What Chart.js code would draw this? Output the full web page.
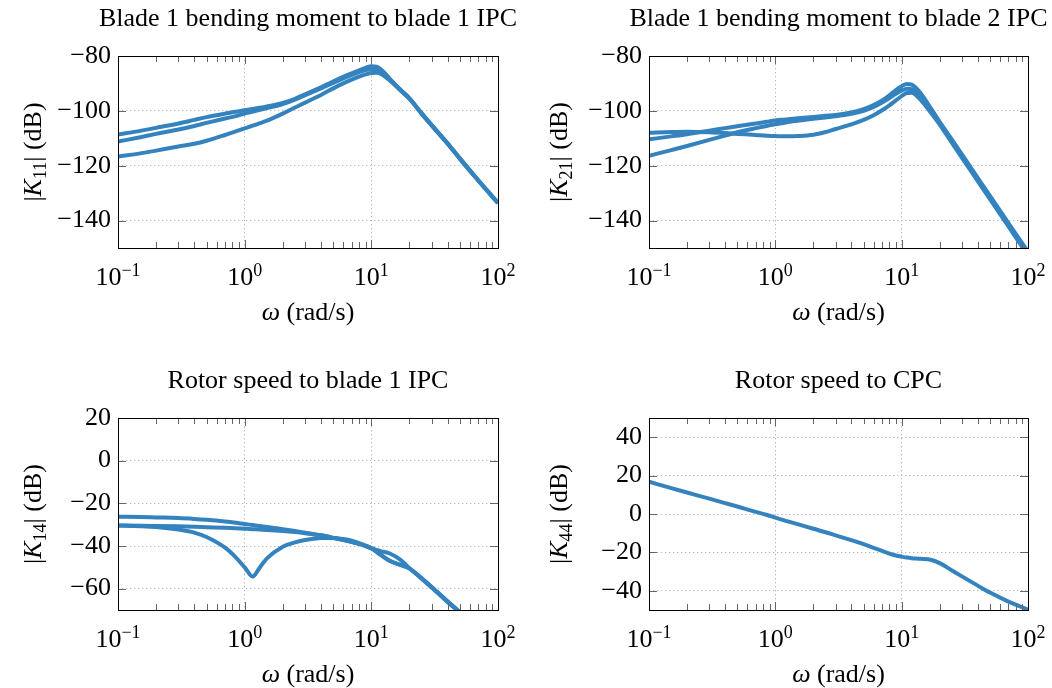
<!DOCTYPE html>
<html>
<head>
<meta charset="utf-8">
<title>Controller magnitude responses</title>
<script src="https://cdn.jsdelivr.net/npm/chart.js@4.4.1/dist/chart.umd.min.js"></script>
<style>
    html, body { margin: 0; padding: 0; background: #fff; overflow: hidden; }
    .panel { position: absolute; width: 526px; height: 330px; }
</style>
</head>
<body>
<div class="panel" style="left:0;top:0"><canvas id="k11"></canvas></div>
<div class="panel" style="left:526px;top:0"><canvas id="k21"></canvas></div>
<div class="panel" style="left:0;top:362px"><canvas id="k14"></canvas></div>
<div class="panel" style="left:526px;top:362px"><canvas id="k44"></canvas></div>
<script>
// Frequency samples (rad/s), shared by every series
const omega = [0.1, 0.15, 0.2, 0.3, 0.4, 0.5, 0.7, 0.85, 1, 1.16, 1.3, 1.5, 2, 2.5, 3, 4, 5,
    6, 7, 8, 9, 10, 11, 12, 14, 17, 20, 25, 30, 40, 50, 70, 100];

// |K11| (dB)
const k11A = [-108.6, -107.3, -106.2, -104.6, -103.3, -102.3, -101.0, -100.3, -99.8, -99.3, -98.9,
    -98.4, -97.1, -95.6, -94.0, -91.4, -89.3, -87.6, -86.3, -85.2, -84.3, -83.7, -83.9, -85.0,
    -88.3, -92.3, -95.4, -100.9, -105.2, -111.8, -117.3, -125.3, -133.5];
const k11B = [-111.2, -109.6, -108.4, -106.8, -105.5, -104.4, -102.8, -101.9, -101.0, -100.3, -99.7,
    -99.0, -97.5, -95.9, -94.3, -91.8, -89.8, -88.2, -86.9, -85.9, -85.1, -84.8, -85.0, -85.8,
    -88.6, -92.4, -95.5, -101.0, -105.3, -111.9, -117.4, -125.4, -133.6];
const k11C = [-116.7, -115.5, -114.5, -113.0, -112.0, -110.9, -108.8, -107.5, -106.4, -105.4, -104.6,
    -103.6, -101.0, -98.8, -97.0, -94.2, -91.8, -90.0, -88.6, -87.5, -86.7, -86.2, -86.1, -86.6,
    -88.9, -92.6, -95.6, -101.1, -105.4, -112.0, -117.5, -125.5, -133.7];

// |K21| (dB)
const k21P = [-108.0, -107.7, -107.6, -107.8, -108.1, -108.4, -108.8, -109.1, -109.2, -109.3, -109.3,
    -109.2, -108.7, -107.7, -106.6, -104.9, -103.3, -101.6, -99.8, -98.0, -96.2, -94.6, -93.5, -93.4,
    -95.8, -100.6, -105.0, -111.7, -117.1, -125.6, -132.2, -142.1, -152.8];
const k21Q = [-110.4, -109.3, -108.5, -107.2, -106.3, -105.6, -104.6, -104.0, -103.5, -103.2, -103.0,
    -102.7, -102.2, -101.8, -101.5, -100.6, -99.4, -97.9, -96.2, -94.3, -92.4, -91.0, -90.2, -90.4,
    -93.3, -99.0, -104.0, -110.5, -115.9, -124.4, -131.0, -140.9, -151.4];
const k21R = [-116.4, -114.3, -112.8, -110.6, -109.0, -107.8, -106.3, -105.5, -104.9, -104.4, -104.0,
    -103.6, -102.9, -102.4, -102.0, -101.1, -100.0, -98.6, -97.0, -95.3, -93.8, -92.6, -91.9, -92.1,
    -94.6, -99.6, -104.5, -111.1, -116.5, -125.0, -131.6, -141.5, -152.1];

// |K14| (dB)
const k14U = [-26.3, -26.4, -26.6, -26.9, -27.3, -27.7, -28.5, -29.1, -29.7, -30.2, -30.6,
    -31.1, -32.1, -33.0, -33.8, -35.0, -36.2, -37.2, -38.1, -39.0, -40.0, -41.2, -42.6, -44.3,
    -46.9, -48.9, -50.5, -55.3, -59.4, -66.1, -71.1, -78.6, -86.6];
const k14V = [-30.4, -30.5, -30.6, -30.8, -31.0, -31.2, -31.5, -31.7, -31.9, -32.1, -32.3,
    -32.5, -33.0, -33.5, -34.0, -35.0, -36.1, -37.1, -38.0, -39.0, -40.0, -41.0, -41.8, -42.5,
    -43.5, -46.5, -50.4, -55.1, -59.2, -65.9, -70.9, -78.4, -86.4];
const k14W = [-30.4, -30.7, -31.1, -32.3, -33.7, -35.8, -40.8, -45.3, -50.0, -54.3, -50.5,
    -45.8, -40.3, -38.3, -37.2, -36.3, -36.2, -36.7, -37.5, -38.6, -39.8, -41.0, -42.8, -44.4,
    -47.0, -48.9, -50.6, -55.4, -59.5, -66.2, -71.2, -78.7, -86.7];

// |K44| (dB)
const k44 = [16.8, 13.5, 11.2, 8.0, 5.7, 3.9, 1.1, -0.4, -1.9, -3.2, -4.1,
    -5.3, -7.7, -9.5, -11.1, -13.6, -15.7, -17.6, -19.2, -20.6, -21.6, -22.2, -22.7, -23.0,
    -23.3, -23.8, -25.6, -29.4, -32.5, -37.3, -40.9, -45.6, -49.8];

// Axis ticks
const xTicks = [0.1, 1, 10, 100];
const xTickExponents = ['\u22121', '0', '1', '2'];
const k11Ticks = [-140, -120, -100, -80];
const k21Ticks = [-140, -120, -100, -80];
const k14Ticks = [-60, -40, -20, 0, 20];
const k44Ticks = [-40, -20, 0, 20, 40];

const lineColor = 'rgb(52, 131, 191)';
const serif = "'Liberation Serif', 'Times New Roman', serif";
const baseSize = 26;
const smallSize = 18;

/**
 * Draw the plot frame and the inward tick marks
 */
const framePlugin = {
    id: 'frame',
    afterDatasetsDraw(chart) {
        const { ctx, chartArea: a, scales } = chart;
        const x = scales.x, y = scales.y;
        ctx.save();
        ctx.strokeStyle = '#666';
        ctx.lineWidth = 1;
        ctx.beginPath();
        // log minor + major ticks along top and bottom
        [0.1, 1, 10].forEach(decade => {
            for (let m = 1; m <= 9; m++) {
                const v = decade * m;
                if (v <= 0.1) continue;
                const px = Math.round(x.getPixelForValue(v)) + 0.5;
                const len = m === 1 ? 8 : 6;
                ctx.moveTo(px, a.top);
                ctx.lineTo(px, a.top + len);
                ctx.moveTo(px, a.bottom);
                ctx.lineTo(px, a.bottom - len);
            }
        });
        // y ticks on left and right
        y.ticks.forEach(t => {
            const py = Math.round(y.getPixelForValue(t.value)) + 0.5;
            ctx.moveTo(a.left, py);
            ctx.lineTo(a.left + 8, py);
            ctx.moveTo(a.right, py);
            ctx.lineTo(a.right - 8, py);
        });
        ctx.stroke();
        ctx.strokeStyle = '#000';
        ctx.strokeRect(Math.round(a.left) + 0.5, Math.round(a.top) + 0.5,
            Math.round(a.right - a.left), Math.round(a.bottom - a.top));
        ctx.restore();
    }
};

// Draw a row of text pieces (mixed sizes / italics) centred on cx
function drawRuns(ctx, runs, cx, baseline) {
    const fontOf = r => (r.italic ? 'italic ' : '') + (r.size || baseSize) + 'px ' + serif;
    let total = 0;
    runs.forEach(r => {
        ctx.font = fontOf(r);
        r.w = ctx.measureText(r.text).width;
        total += r.w;
    });
    let x = cx - total / 2;
    ctx.textAlign = 'left';
    runs.forEach(r => {
        ctx.font = fontOf(r);
        ctx.fillText(r.text, x, baseline + (r.dy || 0));
        x += r.w;
    });
}

/**
 * Panel title, log tick labels and axis titles
 */
const labelPlugin = {
    id: 'labels',
    afterDraw(chart, args, opts) {
        const { ctx, chartArea: a, scales } = chart;
        const midX = (a.left + a.right) / 2;
        ctx.save();
        ctx.fillStyle = '#000';
        ctx.textBaseline = 'alphabetic';

        ctx.font = baseSize + 'px ' + serif;
        ctx.textAlign = 'center';
        ctx.fillText(opts.title, midX, 25.5);

        xTicks.forEach((v, i) => {
            drawRuns(ctx, [
                { text: '10' },
                { text: xTickExponents[i], size: smallSize, dy: -9 }
            ], scales.x.getPixelForValue(v), a.bottom + 37);
        });

        drawRuns(ctx, [{ text: '\u03C9', italic: true }, { text: ' (rad/s)' }], midX, a.bottom + 72);

        ctx.translate(41, (a.top + a.bottom) / 2);
        ctx.rotate(-Math.PI / 2);
        drawRuns(ctx, [
            { text: '|' },
            { text: 'K', italic: true },
            { text: opts.sub, size: smallSize, dy: 5 },
            { text: '| (dB)' }
        ], 0, 0);
        ctx.restore();
    }
};

function toPoints(values) {
    return omega.map((w, i) => ({ x: w, y: values[i] }));
}

function formatDb(v) {
    return v < 0 ? '\u2212' + Math.abs(v) : String(v);
}

/**
 * Build one magnitude panel
 */
function makePanel(id, title, sub, series, yMin, yMax, yTicks, yWidth, rightPad) {
    const datasets = series.map(values => ({
        data: toPoints(values),
        borderColor: lineColor,
        borderWidth: 4,
        pointRadius: 0,
        fill: false,
        cubicInterpolationMode: 'monotone',
        clip: 0
    }));

    return new Chart(document.getElementById(id), {
        type: 'line',
        data: { datasets: datasets },
        options: {
            responsive: true,
            maintainAspectRatio: false,
            animation: false,
            events: [],
            layout: { padding: { left: 0, right: rightPad, top: 56, bottom: 0 } },
            plugins: {
                legend: { display: false },
                tooltip: { enabled: false },
                title: { display: false },
                labels: { title: title, sub: sub }
            },
            scales: {
                x: {
                    type: 'logarithmic',
                    min: 0.1,
                    max: 100,
                    afterBuildTicks: s => { s.ticks = xTicks.map(v => ({ value: v })); },
                    afterFit: s => { s.height = 82; },
                    ticks: { display: false, autoSkip: false },
                    grid: { color: '#b8b8b8', lineWidth: 1, drawTicks: false },
                    border: { display: false, dash: [1.3, 2.7] }
                },
                y: {
                    type: 'linear',
                    min: yMin,
                    max: yMax,
                    afterBuildTicks: s => { s.ticks = yTicks.map(v => ({ value: v })); },
                    afterFit: s => { s.width = yWidth; },
                    ticks: {
                        color: '#000',
                        font: { family: serif, size: baseSize },
                        padding: 7,
                        callback: v => formatDb(v)
                    },
                    grid: { color: '#b8b8b8', lineWidth: 1, drawTicks: false },
                    border: { display: false, dash: [1.3, 2.7] }
                }
            }
        },
        plugins: [framePlugin, labelPlugin]
    });
}

makePanel('k11', 'Blade 1 bending moment to blade 1 IPC', '11',
    [k11A, k11B, k11C], -150, -80, k11Ticks, 118, 28);
makePanel('k21', 'Blade 1 bending moment to blade 2 IPC', '21',
    [k21P, k21Q, k21R], -150, -80, k21Ticks, 123, 24);
makePanel('k14', 'Rotor speed to blade 1 IPC', '14',
    [k14U, k14V, k14W], -70, 20, k14Ticks, 118, 28);
makePanel('k44', 'Rotor speed to CPC', '44',
    [k44], -50, 50, k44Ticks, 123, 24);
</script>
</body>
</html>
